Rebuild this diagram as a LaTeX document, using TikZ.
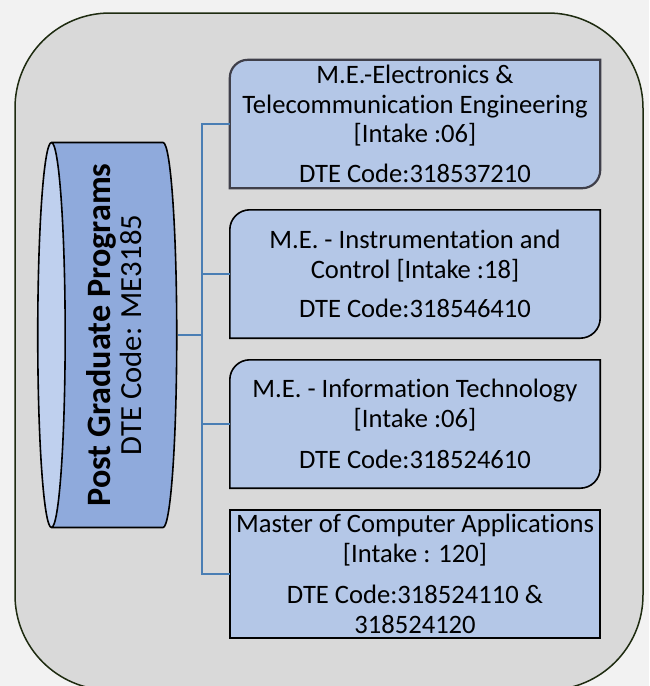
\documentclass[tikz,border=0pt]{standalone}
\usepackage{fontspec}
\setmainfont{Carlito}[Ligatures = NoCommon]
\usetikzlibrary{positioning}
\usetikzlibrary{shapes.geometric}
\usetikzlibrary{backgrounds}

\definecolor{pagebg}{HTML}{F2F2F2}
\definecolor{framefill}{HTML}{D9D9D9}
\definecolor{framedraw}{HTML}{1E2B10}
\definecolor{boxfill}{HTML}{B4C7E7}
\definecolor{boxedge}{HTML}{3F3F4A}
\definecolor{cylbody}{HTML}{8FAADC}
\definecolor{cylend}{HTML}{BFD0EE}
\definecolor{linkblue}{HTML}{4A7EB4}

\tikzset{
	box/.style = {minimum width = 370pt, minimum height = 128pt, inner sep = 0pt, align = center, font = \fontsize{26.6}{29.5}\selectfont},
	boxline/.style = {fill = boxfill, draw = black, line width = 1.6pt},
	link/.style = {draw = linkblue, line width = 1.8pt},
	drum/.style = {cylinder, shape border rotate = 90, rotate = 90, aspect = 0.08, draw = black, line width = 1.6pt, cylinder uses custom fill, cylinder body fill = cylbody, cylinder end fill = cylend, inner sep = 0pt, align = center}
}

\begin{document}
\begin{tikzpicture}[x = 1pt, y = -1pt]
					\useasboundingbox (0, 0) rectangle (649, 686);
					\begin{pgfonlayer}{background}
						\fill [pagebg] (0, 0) rectangle (649, 686);
						\draw [framedraw, fill = framefill, line width = 1.5pt, rounded corners = 95pt] (15, 13) rectangle (643, 690);
					\end{pgfonlayer}
					\node (pgp) at (114.5, 335) [drum, minimum width = 385pt, minimum height = 139pt] {\fontsize{34.2}{37}\selectfont\bfseries Post Graduate Programs\\[3pt]\fontsize{30.7}{37}\selectfont DTE Code: ME3185};
					\node (b1) at (415, 124) [box] {M.E.-Electronics \&\\Telecommunication Engineering\\{}[Intake :06]\\[10pt]DTE Code:318537210};
					\node (b2) at (415, 274) [box] {M.E. - Instrumentation and\\Control [Intake :18]\\[10pt]DTE Code:318546410};
					\node (b3) at (415, 424) [box] {M.E. - Information Technology\\{}[Intake :06]\\[12pt]DTE Code:318524610};
					\node (b4) at (415, 574) [box] {Master of Computer Applications\\{}[Intake : 120]\\[12pt]DTE Code:318524110 \&\\318524120};
					\begin{pgfonlayer}{background}
						\draw [boxline, draw = boxedge, line width = 2.2pt] (b1.south west) -- ([yshift = -18pt] b1.north west) arc [start angle = 180, end angle = 90, radius = 18pt] -- (b1.north east) -- ([yshift = 18pt] b1.south east) arc [start angle = 0, end angle = -90, radius = 18pt] -- cycle;
						\draw [boxline] (b2.south west) -- ([yshift = -20pt] b2.north west) arc [start angle = 180, end angle = 90, radius = 20pt] -- (b2.north east) -- ([yshift = 20pt] b2.south east) arc [start angle = 0, end angle = -90, radius = 20pt] -- cycle;
						\draw [boxline] (b3.south west) -- ([yshift = -20pt] b3.north west) arc [start angle = 180, end angle = 90, radius = 20pt] -- (b3.north east) -- ([yshift = 20pt] b3.south east) arc [start angle = 0, end angle = -90, radius = 20pt] -- cycle;
						\draw [boxline] (b4.south west) rectangle (b4.north east);
					\end{pgfonlayer}
					\coordinate (trunk) at (202, 124);
					\draw [link] (b1.west) -- (b1.west -| trunk) |- (b4.west);
					\draw [link] (b2.west) -- (b2.west -| trunk);
					\draw [link] (b3.west) -- (b3.west -| trunk);
					\draw [link] (pgp.bottom) -- (pgp.bottom -| trunk);
				\end{tikzpicture}
\end{document}
